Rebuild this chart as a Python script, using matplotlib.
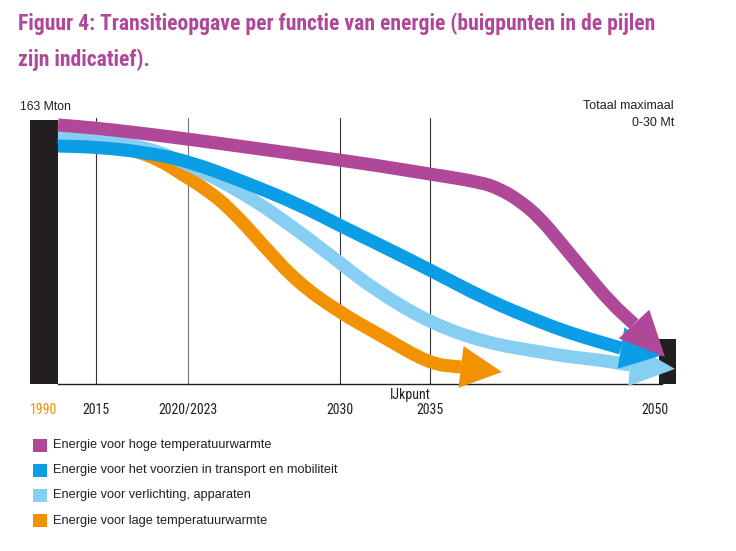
import numpy as np
import matplotlib
matplotlib.use("Agg")
import matplotlib.pyplot as plt
from matplotlib.patches import Polygon, Rectangle, PathPatch
from matplotlib.path import Path

# schematic positions on the time axis (chart units) and their labels
year_pos = [44, 96, 188, 340, 430, 655]
year_labels = ["1990", "2015", "2020/2023", "2030", "2035", "2050"]
grid_pos = [96, 188, 340, 430]

start_total = 163   # Mton in 1990
end_total = 28      # top of the 0-30 Mt block

# centre lines of the arrows (chart x, Mton)
hoog_x = [58, 96, 140, 188, 260, 339, 380, 430, 480, 500, 520, 540, 560, 585, 610, 634]
hoog_y = [159.9, 158.0, 154.9, 151.2, 145.1, 138.3, 134.6, 129.6, 124.7, 120.4,
          113.0, 102.5, 87.7, 69.1, 50.6, 37.0]
hoog_tip = (665, 16.7)

transport_x = [58, 96, 143, 188, 247, 300, 339, 380, 430, 487, 540, 570, 600, 621]
transport_y = [146.9, 146.3, 143.2, 137.7, 124.1, 110.5, 98.1, 85.8, 70.4, 51.9,
               38.3, 31.5, 25.9, 22.2]
transport_tip = (663, 17.9)

licht_x = [58, 96, 143, 180, 247, 297, 339, 375, 430, 487, 540, 570, 600, 630]
licht_y = [152.5, 151.2, 146.6, 138.3, 116.7, 95.1, 75.3, 58.0, 37.7, 25.3,
           19.8, 16.7, 14.8, 11.7]
licht_tip = (675, 9.3)

laag_x = [130, 160, 180, 205, 230, 263, 297, 339, 380, 430, 461]
laag_y = [145.0, 138.3, 130.2, 120.7, 108.4, 85.8, 63.0, 44.4, 30.2, 12.3, 10.5]
laag_tip = (502, 7.4)

labels = ["Energie voor hoge temperatuurwarmte",
          "Energie voor het voorzien in transport en mobiliteit",
          "Energie voor verlichting, apparaten",
          "Energie voor lage temperatuurwarmte"]
colors = ["#B0489A", "#0B9DE6", "#86CEF2", "#F39200"]
black = "#231F20"

W, H = 736, 551
fig = plt.figure(figsize=(W / 100, H / 100), dpi=100)
ax = fig.add_axes([0, 0, 1, 1])
ax.set_xlim(0, W)
# 1.62 px per Mton, baseline at pixel row 384
ax.set_ylim((384 - H) / 1.62, 384 / 1.62)
ax.axis("off")

narrow = ["Liberation Sans Narrow", "Roboto Condensed", "DejaVu Sans"]
plain = ["Liberation Sans", "DejaVu Sans"]


def fx(px):
    return px / W


def fy(py):
    return 1 - py / H


def arrow(xs, ys, tip, color, z):
    pts = np.column_stack([xs, ys]).astype(float)
    verts = [pts[0], (pts[0] + pts[1]) / 2]
    codes = [Path.MOVETO, Path.LINETO]
    for i in range(1, len(pts) - 1):
        verts += [pts[i], (pts[i] + pts[i + 1]) / 2]
        codes += [Path.CURVE3, Path.CURVE3]
    verts.append(pts[-1])
    codes.append(Path.LINETO)
    ax.add_patch(PathPatch(Path(verts, codes), fill=False, edgecolor=color, lw=9.4,
                           capstyle="butt", joinstyle="round", zorder=z))
    t = ax.transData
    base = t.transform(pts[-1])
    tp = t.transform(tip)
    d = (tp - base) / np.hypot(*(tp - base))
    n = np.array([-d[1], d[0]])
    half = 21 * fig.dpi / 100
    hv = t.inverted().transform([base + n * half, tp, base - n * half])
    ax.add_patch(Polygon(hv, closed=True, facecolor=color, lw=0, zorder=z + 5))


# grid lines and baseline
for gx in grid_pos:
    c = "#777777" if gx == 188 else "#333333"
    ax.plot([gx, gx], [0, 164.5], color=c, lw=0.8, zorder=1)
ax.plot([58, 662], [0, 0], color=black, lw=1.0, zorder=1)

# start and end blocks
ax.bar(44, start_total, width=28, color=black, zorder=2)
ax.bar(667, end_total, width=17, color=black, zorder=2)

arrow(laag_x, laag_y, laag_tip, colors[3], 3)
arrow(transport_x, transport_y, transport_tip, colors[1], 4)
arrow(licht_x, licht_y, licht_tip, colors[2], 3.5)
arrow(hoog_x, hoog_y, hoog_tip, colors[0], 4.5)

# year labels
for xp, lab in zip(year_pos, year_labels):
    c = colors[3] if lab == "1990" else black
    ax.text(xp, (384 - 410) / 1.62, lab, ha="center", va="center",
            fontsize=10, color=c, family=narrow, fontstretch="condensed")
ax.text(410, (384 - 395) / 1.62, "IJkpunt", ha="center", va="center",
        fontsize=10, color=black, family=narrow, fontstretch="condensed")

# annotations
fig.text(fx(20), fy(107), "163 Mton", ha="left", va="center", fontsize=8.8,
         color=black, family=plain)
fig.text(fx(674), fy(106), "Totaal maximaal", ha="right", va="center", fontsize=9,
         color=black, family=plain)
fig.text(fx(674), fy(123), "0-30 Mt", ha="right", va="center", fontsize=9,
         color=black, family=plain)

# title, scaled so the first line spans the same width as in the original
t1 = fig.text(fx(18), fy(24), "Figuur 4: Transitieopgave per functie van energie (buigpunten in de pijlen",
              ha="left", va="center", fontsize=14, fontweight="bold", color="#B0479A",
              family=narrow, fontstretch="condensed")
t2 = fig.text(fx(18), fy(60), "zijn indicatief).",
              ha="left", va="center", fontsize=14, fontweight="bold", color="#B0479A",
              family=narrow, fontstretch="condensed")
r = fig.canvas.get_renderer()
w1 = t1.get_window_extent(r).width
fs = min(17.0, 14 * 642 / w1)
t1.set_fontsize(fs)
t2.set_fontsize(fs)

# legend
for i, (lab, col) in enumerate(zip(labels, colors)):
    yc = 445 + i * 25.2
    fig.patches.append(Rectangle((fx(33), fy(yc + 6.5)), 14 / W, 13 / H,
                                 transform=fig.transFigure, facecolor=col, lw=0))
    fig.text(fx(53), fy(yc), lab, ha="left", va="center", fontsize=9.2,
             color=black, family=plain)

fig.savefig("out.png", dpi=100)
